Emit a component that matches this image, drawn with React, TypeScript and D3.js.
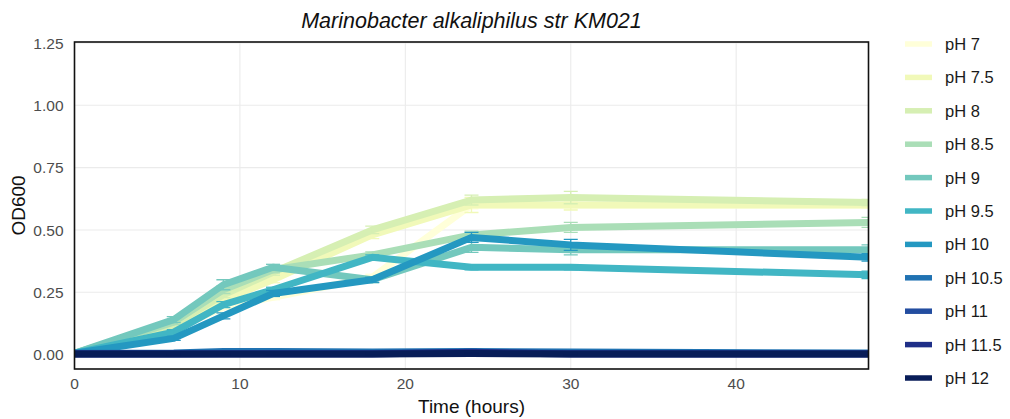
import React from "react";
import * as d3 from "d3";

// Sampling times (hours)
const times = [0, 6, 9, 12, 18, 24, 30, 48];

// Series labels
const phLabels = ["pH 7", "pH 7.5", "pH 8", "pH 8.5", "pH 9", "pH 9.5", "pH 10", "pH 10.5", "pH 11", "pH 11.5", "pH 12"];

// Mean OD600 per series
const ph7 = [0.005, 0.1, 0.19, 0.23, 0.31, 0.6, 0.6, 0.6];
const ph75 = [0.005, 0.11, 0.22, 0.3, 0.48, 0.6, 0.6, 0.6];
const ph8 = [0.005, 0.12, 0.24, 0.33, 0.5, 0.62, 0.63, 0.61];
const ph85 = [0.005, 0.13, 0.26, 0.34, 0.4, 0.48, 0.51, 0.53];
const ph9 = [0.005, 0.14, 0.28, 0.35, 0.3, 0.43, 0.42, 0.42];
const ph95 = [0.005, 0.09, 0.2, 0.26, 0.39, 0.35, 0.35, 0.32];
const ph10 = [0.005, 0.065, 0.155, 0.245, 0.3, 0.47, 0.44, 0.39];
const ph105 = [0.005, 0.006, 0.012, 0.012, 0.01, 0.012, 0.01, 0.006];
const ph11 = [0.003, 0.003, 0.004, 0.004, 0.004, 0.008, 0.004, 0.003];
const ph115 = [0.002, 0.002, 0.002, 0.002, 0.002, 0.009, 0.002, 0.002];
const ph12 = [0.002, 0.002, 0.002, 0.002, 0.002, 0.004, 0.002, 0.002];

// Standard error per series
const se7 = [0.004, 0.008, 0.01, 0.01, 0.012, 0.015, 0.015, 0.01];
const se75 = [0.004, 0.01, 0.012, 0.012, 0.015, 0.03, 0.02, 0.01];
const se8 = [0.004, 0.01, 0.012, 0.012, 0.015, 0.02, 0.025, 0.012];
const se85 = [0.004, 0.01, 0.015, 0.012, 0.012, 0.015, 0.02, 0.02];
const se9 = [0.004, 0.012, 0.02, 0.012, 0.012, 0.02, 0.02, 0.02];
const se95 = [0.004, 0.01, 0.012, 0.01, 0.01, 0.01, 0.01, 0.015];
const se10 = [0.004, 0.008, 0.012, 0.012, 0.01, 0.02, 0.022, 0.015];
const se105 = [0.003, 0.003, 0.004, 0.004, 0.004, 0.004, 0.004, 0.003];
const se11 = [0.002, 0.002, 0.002, 0.002, 0.002, 0.003, 0.002, 0.002];
const se115 = [0.002, 0.002, 0.002, 0.002, 0.002, 0.003, 0.002, 0.002];
const se12 = [0.002, 0.002, 0.002, 0.002, 0.002, 0.002, 0.002, 0.002];

const xTicks = [0, 10, 20, 30, 40];
const yTicks = [0, 0.25, 0.5, 0.75, 1.0, 1.25];

const means = [ph7, ph75, ph8, ph85, ph9, ph95, ph10, ph105, ph11, ph115, ph12];
const errors = [se7, se75, se8, se85, se9, se95, se10, se105, se11, se115, se12];

// YlGnBu ramp stretched over the eleven pH levels
const brewer = d3.schemeYlGnBu[9];
const ramp = d3
  .scaleLinear<string>()
  .domain(d3.range(9))
  .range(brewer)
  .interpolate(d3.interpolateRgb);
const colorOf = (i: number) => ramp((i * 8) / (phLabels.length - 1));

const W = 1010;
const H = 419;
const panel = { left: 74.5, right: 868.5, top: 42, bottom: 369 };

export default function App() {
  const x = d3.scaleLinear().domain([0, 48]).range([panel.left, panel.right]);
  const y = d3.scaleLinear().domain([-0.058, 1.254]).range([panel.bottom, panel.top]);

  const line = d3
    .line<number>()
    .x((_, i) => x(times[i]))
    .y((v) => y(v));

  const capHalf = 7;
  const font = "'Liberation Sans', Arial, Helvetica, sans-serif";

  return (
    <svg
      width={W}
      height={H}
      style={{ position: "absolute", left: 0, top: 0, background: "#fff" }}
      fontFamily={font}
    >
      <defs>
        <clipPath id="panel-clip">
          <rect
            x={panel.left}
            y={panel.top}
            width={panel.right - panel.left}
            height={panel.bottom - panel.top}
          />
        </clipPath>
      </defs>

      {/* grid */}
      <g stroke="#ebebeb" strokeWidth={1.1}>
        {xTicks.map((t) => (
          <line key={"gx" + t} x1={x(t)} x2={x(t)} y1={panel.top} y2={panel.bottom} />
        ))}
        {yTicks.map((t) => (
          <line key={"gy" + t} x1={panel.left} x2={panel.right} y1={y(t)} y2={y(t)} />
        ))}
      </g>

      {/* series */}
      <g clipPath="url(#panel-clip)">
        {means.map((vals, si) => {
          const c = colorOf(si);
          return (
            <g key={"s" + si}>
              <path
                d={line(vals) ?? ""}
                fill="none"
                stroke={c}
                strokeWidth={7}
                strokeLinejoin="round"
              />
              {vals.map((v, i) => {
                const e = errors[si][i];
                const cx = x(times[i]);
                return (
                  <g key={"e" + i} stroke={c} strokeWidth={1.3}>
                    <line x1={cx} x2={cx} y1={y(v - e)} y2={y(v + e)} />
                    <line x1={cx - capHalf} x2={cx + capHalf} y1={y(v - e)} y2={y(v - e)} />
                    <line x1={cx - capHalf} x2={cx + capHalf} y1={y(v + e)} y2={y(v + e)} />
                  </g>
                );
              })}
            </g>
          );
        })}
      </g>

      {/* panel border */}
      <rect
        x={panel.left}
        y={panel.top}
        width={panel.right - panel.left}
        height={panel.bottom - panel.top}
        fill="none"
        stroke="#111"
        strokeWidth={1.6}
      />

      {/* y axis labels */}
      <g fill="#4d4d4d" fontSize={15.5} textAnchor="end">
        {yTicks.map((t) => (
          <text key={"yl" + t} x={63.5} y={y(t)} dy="0.36em">
            {t.toFixed(2)}
          </text>
        ))}
      </g>

      {/* x axis labels */}
      <g fill="#4d4d4d" fontSize={15.5} textAnchor="middle">
        {xTicks.map((t) => (
          <text key={"xl" + t} x={x(t)} y={389}>
            {t}
          </text>
        ))}
      </g>

      {/* axis titles */}
      <text
        x={(panel.left + panel.right) / 2}
        y={413}
        textAnchor="middle"
        fontSize={19}
        fill="#111"
      >
        Time (hours)
      </text>
      <text
        transform={`translate(25, ${(panel.top + panel.bottom) / 2}) rotate(-90)`}
        textAnchor="middle"
        fontSize={19}
        fill="#111"
      >
        OD600
      </text>

      {/* title */}
      <text
        x={(panel.left + panel.right) / 2}
        y={28}
        textAnchor="middle"
        fontSize={21.5}
        fontStyle="italic"
        fill="#111"
      >
        Marinobacter alkaliphilus str KM021
      </text>

      {/* legend */}
      <g>
        {phLabels.map((lab, i) => {
          const cy = 44 + i * 33.4;
          return (
            <g key={"lg" + i}>
              <line
                x1={905}
                x2={932}
                y1={cy}
                y2={cy}
                stroke={colorOf(i)}
                strokeWidth={5.5}
              />
              <text x={945} y={cy} dy="0.36em" fontSize={16.5} fill="#1a1a1a">
                {lab}
              </text>
            </g>
          );
        })}
      </g>
    </svg>
  );
}
